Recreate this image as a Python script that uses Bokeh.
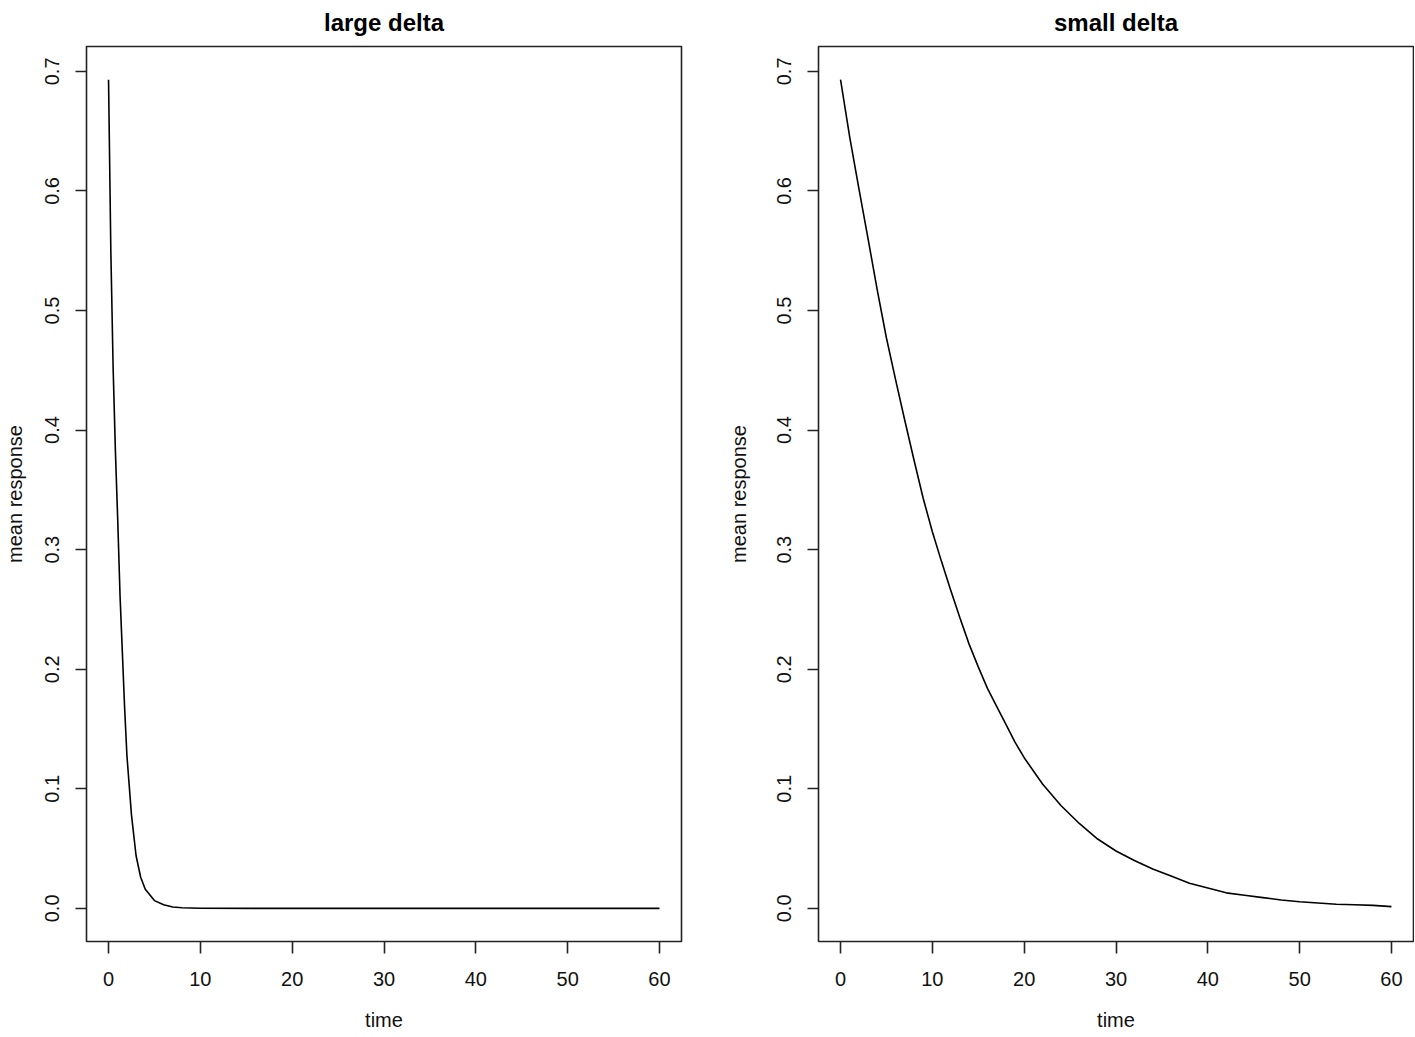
from bokeh.plotting import figure
from bokeh.layouts import row
from bokeh.models import Range1d, FixedTicker, PrintfTickFormatter, Title
from bokeh.embed import file_html
from bokeh.resources import INLINE

# ---- data ----
large_time = [0, 0.25, 0.5, 0.75, 1.0, 1.25, 1.5, 1.75, 2.0, 2.5, 3.0, 3.5, 4.0,
              5.0, 6.0, 7.0, 8.0, 10, 20, 30, 40, 50, 60]
large_resp = [0.693, 0.55, 0.452, 0.382, 0.325, 0.262, 0.215, 0.168, 0.128, 0.078,
              0.044, 0.026, 0.016, 0.0065, 0.003, 0.0012, 0.0005, 0.0001, 0.0, 0.0,
              0.0, 0.0, 0.0]

small_time = [0, 1, 2, 3, 4, 5, 6, 7, 8, 9, 10, 11, 12, 13, 14, 15, 16, 17, 18, 19,
              20, 22, 24, 26, 28, 30, 32, 34, 36, 38, 40, 42, 44, 46, 48, 50, 52,
              54, 56, 58, 60]
small_resp = [0.693, 0.645, 0.602, 0.560, 0.517, 0.477, 0.442, 0.408, 0.375, 0.343,
              0.315, 0.290, 0.266, 0.243, 0.221, 0.202, 0.184, 0.169, 0.154, 0.139,
              0.126, 0.104, 0.086, 0.071, 0.058, 0.048, 0.040, 0.033, 0.027, 0.021,
              0.017, 0.013, 0.011, 0.009, 0.007, 0.0055, 0.0045, 0.0035, 0.003,
              0.0025, 0.0015]

titles = ["large delta", "small delta"]
x_ticks = [0, 10, 20, 30, 40, 50, 60]
y_ticks = [0.0, 0.1, 0.2, 0.3, 0.4, 0.5, 0.6, 0.7]
x_label = "time"
y_label = "mean response"

FONT = "Liberation Sans"
X_MIN, X_MAX = -2.4, 62.4
Y_MIN, Y_MAX = -0.0277, 0.7208


def make_panel(title, xs, ys, width, bl, br, ylab_standoff):
    p = figure(width=width, height=1037, output_backend="svg", toolbar_location=None,
               x_range=Range1d(X_MIN, X_MAX), y_range=Range1d(Y_MIN, Y_MAX),
               min_border_left=bl, min_border_right=br,
               min_border_top=46, min_border_bottom=96,
               background_fill_color="white", border_fill_color="white")

    p.title.visible = False
    t = Title(text=title, align="center", vertical_align="top",
              text_font=FONT, text_font_size="24px", text_font_style="bold",
              text_color="black", standoff=17)
    p.add_layout(t, "above")

    p.line(xs, ys, line_color="black", line_width=1.6)

    p.grid.visible = False
    p.outline_line_color = "#222222"
    p.outline_line_width = 1.6
    p.outline_line_alpha = 1.0

    for ax in (p.xaxis[0], p.yaxis[0]):
        ax.axis_line_color = None
        ax.major_tick_line_color = "#222222"
        ax.major_tick_line_width = 1.6
        ax.major_tick_in = 0
        ax.minor_tick_line_color = None
        ax.major_label_text_font = FONT
        ax.major_label_text_font_size = "20px"
        ax.major_label_text_color = "#111111"
        ax.axis_label_text_font = FONT
        ax.axis_label_text_font_size = "20px"
        ax.axis_label_text_font_style = "normal"
        ax.axis_label_text_color = "#111111"

    xa = p.xaxis[0]
    xa.ticker = FixedTicker(ticks=x_ticks)
    xa.formatter = PrintfTickFormatter(format="%d")
    xa.major_tick_out = 12
    xa.major_label_standoff = 18
    xa.axis_label = x_label
    xa.axis_label_standoff = 20

    ya = p.yaxis[0]
    ya.ticker = FixedTicker(ticks=y_ticks)
    ya.formatter = PrintfTickFormatter(format="%.1f")
    ya.major_tick_out = 11
    ya.major_label_standoff = 16
    ya.major_label_orientation = "parallel"
    ya.axis_label = y_label
    ya.axis_label_standoff = ylab_standoff
    return p


p1 = make_panel(titles[0], large_time, large_resp, 707, 86, 26, 17)
p2 = make_panel(titles[1], small_time, small_resp, 707, 111, 1, 25)

layout = row(p1, p2, spacing=0)
open("out.html", "w").write(file_html(layout, INLINE))
